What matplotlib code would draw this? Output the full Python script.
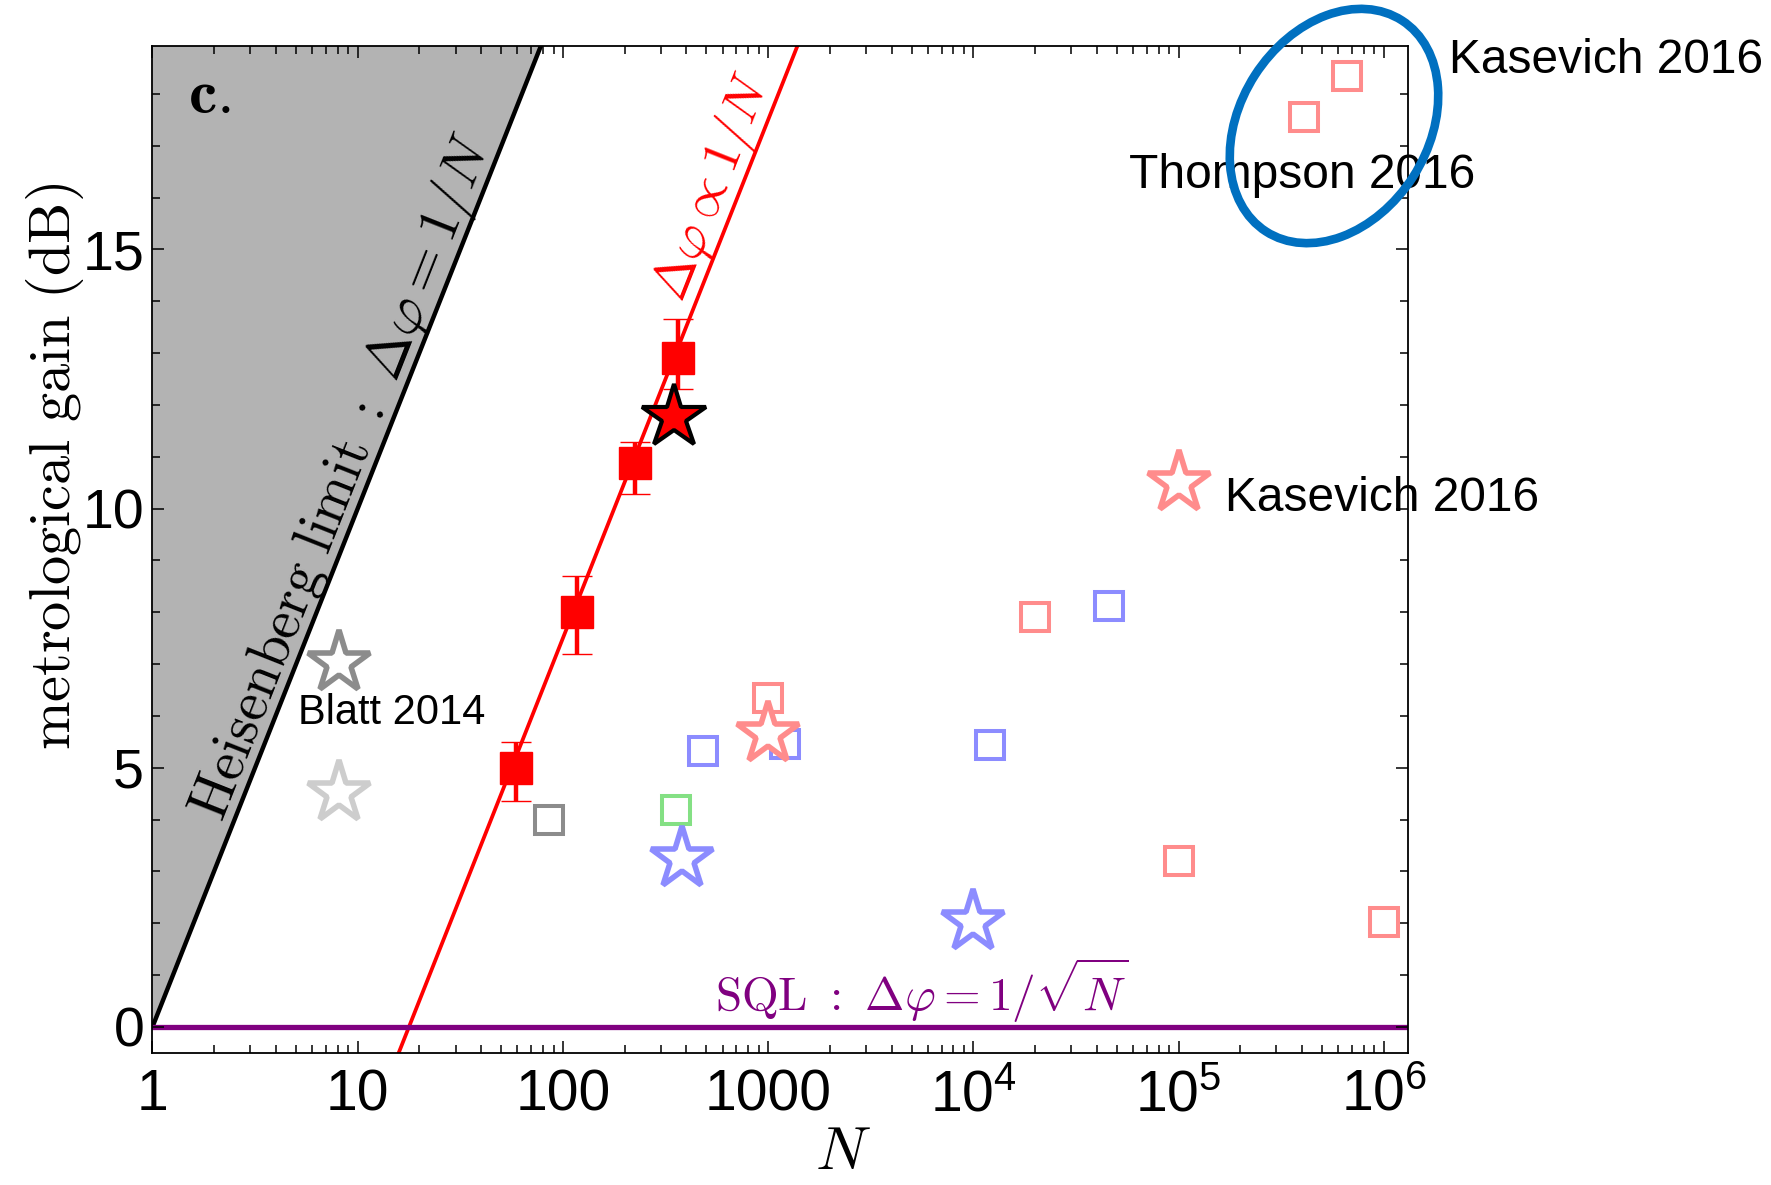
import numpy as np
import matplotlib
matplotlib.use("Agg")
import matplotlib.pyplot as plt
from matplotlib.patches import Ellipse
from matplotlib.ticker import FixedLocator, LogLocator, NullFormatter, MultipleLocator

# ---------------- data ----------------
# this work (filled red squares with error bars)
red_N = [59, 117, 224, 362]
red_gain = [5.0, 8.0, 10.88, 12.9]
red_err_lo = [0.65, 0.8, 0.6, 0.6]
red_err_hi = [0.5, 0.7, 0.4, 0.75]

# red star with black edge
redstar_N = [349]
redstar_gain = [11.76]

# open stars
graystar_N = [8.1]
graystar_gain = [7.02]
lgraystar_N = [8.1]
lgraystar_gain = [4.52]
bluestar_N = [382, 10000]
bluestar_gain = [3.24, 2.02]
pinkstar_N = [1000, 100000]
pinkstar_gain = [5.66, 10.49]

# open squares
graysq_N = [86]
graysq_gain = [4.0]
greensq_N = [354]
greensq_gain = [4.18]
bluesq_N = [484, 1205, 12060, 45700]
bluesq_gain = [5.33, 5.45, 5.43, 8.12]
pinksq_N = [1000, 19900, 100000, 1000000, 409000, 663000]
pinksq_gain = [6.34, 7.91, 3.2, 2.03, 17.55, 18.35]

# fitted scaling line offset (dB) for Delta phi ~ 1/N
fit_offset = 12.5

x_ticks = [1, 10, 100, 1000, 1e4, 1e5, 1e6]
x_ticklabels = ["1", "10", "100", "1000", r"$10^4$", r"$10^5$", r"$10^6$"]
y_ticks = [0, 5, 10, 15]
y_ticklabels = ["0", "5", "10", "15"]

# ---------------- style ----------------
plt.rcParams["font.family"] = ["Liberation Sans", "DejaVu Sans"]
plt.rcParams["mathtext.fontset"] = "custom"
plt.rcParams["mathtext.rm"] = "Liberation Sans"
plt.rcParams["mathtext.it"] = "Liberation Sans:italic"
plt.rcParams["mathtext.bf"] = "Liberation Sans:bold"

PINK = "#FF8C8C"
BLUE = "#8C8CFF"
GRAY = "#8C8C8C"
LGRAY = "#CDCDCD"
GREEN = "#84E084"
PURPLE = "#800080"

fig = plt.figure(figsize=(17.71, 11.85), dpi=100)
ax = fig.add_axes([0.0861, 0.1116, 0.7092, 0.8493])

xmin, xmax = 1.0, 1.32e6
ymin, ymax = -0.5, 18.92
ax.set_xscale("log")
ax.set_xlim(xmin, xmax)
ax.set_ylim(ymin, ymax)

# Heisenberg limit region
Nline = np.logspace(0, np.log10(xmax), 400)
hl = 10 * np.log10(Nline)
ax.fill_between(Nline, hl, ymax + 5, color="#B3B3B3", lw=0, zorder=0)
ax.plot(Nline, hl, color="black", lw=3.2, zorder=1)

# fitted 1/N line
ax.plot(Nline, hl - fit_offset, color="red", lw=2.7, zorder=1)

# SQL
ax.axhline(0, color=PURPLE, lw=3.8, zorder=1)

# squares
sq_kw = dict(ls="none", marker="s", ms=20.5, mew=2.9, mfc="white", zorder=3)
ax.plot(graysq_N, graysq_gain, mec=GRAY, **sq_kw)
ax.plot(greensq_N, greensq_gain, mec=GREEN, **sq_kw)
ax.plot(bluesq_N, bluesq_gain, mec=BLUE, **sq_kw)
ax.plot(pinksq_N, pinksq_gain, mec=PINK, **sq_kw)

# stars
st_kw = dict(ls="none", marker="*", ms=47, mew=4.0, mfc="white", zorder=4)
ax.plot(graystar_N, graystar_gain, mec=GRAY, **st_kw)
ax.plot(lgraystar_N, lgraystar_gain, mec=LGRAY, **st_kw)
ax.plot(bluestar_N, bluestar_gain, mec=BLUE, **st_kw)
ax.plot(pinkstar_N, pinkstar_gain, mec=PINK, **st_kw)

# red data with error bars
ax.errorbar(red_N, red_gain, yerr=[red_err_lo, red_err_hi], fmt="s", color="red",
            ms=23, mew=1, elinewidth=3.2, capsize=11, capthick=3.6, zorder=5)
ax.plot(redstar_N, redstar_gain, ls="none", marker="*", ms=48, mfc="red", mec="black",
        mew=3.0, zorder=6)

# ticks
ax.xaxis.set_major_locator(FixedLocator(x_ticks))
ax.set_xticklabels(x_ticklabels)
ax.xaxis.set_minor_locator(LogLocator(base=10, subs=np.arange(2, 10)))
ax.xaxis.set_minor_formatter(NullFormatter())
ax.set_yticks(y_ticks)
ax.set_yticklabels(y_ticklabels)
ax.yaxis.set_minor_locator(MultipleLocator(1))
ax.tick_params(which="both", direction="in", top=True, right=True, width=1.1, color="black")
ax.tick_params(which="major", length=8.5)
ax.tick_params(which="minor", length=5.5)
ax.tick_params(axis="x", labelsize=41, pad=11)
ax.tick_params(axis="y", labelsize=40, pad=6)
for s in ax.spines.values():
    s.set_linewidth(1.3)

# labels
ax.set_ylabel(r"$\mathrm{metrological\ gain\ (dB)}$", fontsize=42, math_fontfamily="cm", va="center")
ax.yaxis.set_label_coords(-0.0776, 0.583)
ax.set_xlabel(r"$N$", fontsize=44, math_fontfamily="cm", va="center")
ax.xaxis.set_label_coords(0.55, -0.1)

ax.text(0.045, 0.9506, r"$\mathbf{c.}$", transform=ax.transAxes, fontsize=46,
        math_fontfamily="cm", ha="center", va="center")

# rotation angle of the 10*log10 N lines on screen
p1 = ax.transData.transform((1, 0))
p2 = ax.transData.transform((10, 10))
ang = np.degrees(np.arctan2(p2[1] - p1[1], p2[0] - p1[0]))

ax.text(8.5, 10.6, r"$\mathrm{Heisenberg\ limit\ :\ }\Delta\varphi = 1/N$", fontsize=41,
        math_fontfamily="cm", rotation=ang, rotation_mode="anchor", ha="center", va="center")
ax.text(543, 16.2, r"$\Delta\varphi \propto 1/N$", fontsize=38, color="red",
        math_fontfamily="cm", rotation=ang, rotation_mode="anchor", ha="center", va="center")
ax.text(5570, 0.3, r"$\mathrm{SQL\ :\ }\Delta\varphi = 1/\sqrt{N}$", fontsize=34, color=PURPLE,
        math_fontfamily="cm", ha="center", va="baseline")

ax.text(5.1, 6.05, "Blatt 2014", fontsize=30, ha="left", va="center")
ax.text(168000, 10.2, "Kasevich 2016", fontsize=34.5, ha="left", va="center")
ax.text(57600, 16.43, "Thompson 2016", fontsize=34.5, ha="left", va="center")
ax.text(2.08e6, 18.65, "Kasevich 2016", fontsize=34.5, ha="left", va="center", clip_on=False)

# highlight ellipse (figure inches)
fig.add_artist(Ellipse((13.34, 10.59), 1.88, 2.51, angle=-32.8, fill=False,
                       ec="#0070C0", lw=6.2, transform=fig.dpi_scale_trans))

fig.savefig("out.png", dpi=100)
